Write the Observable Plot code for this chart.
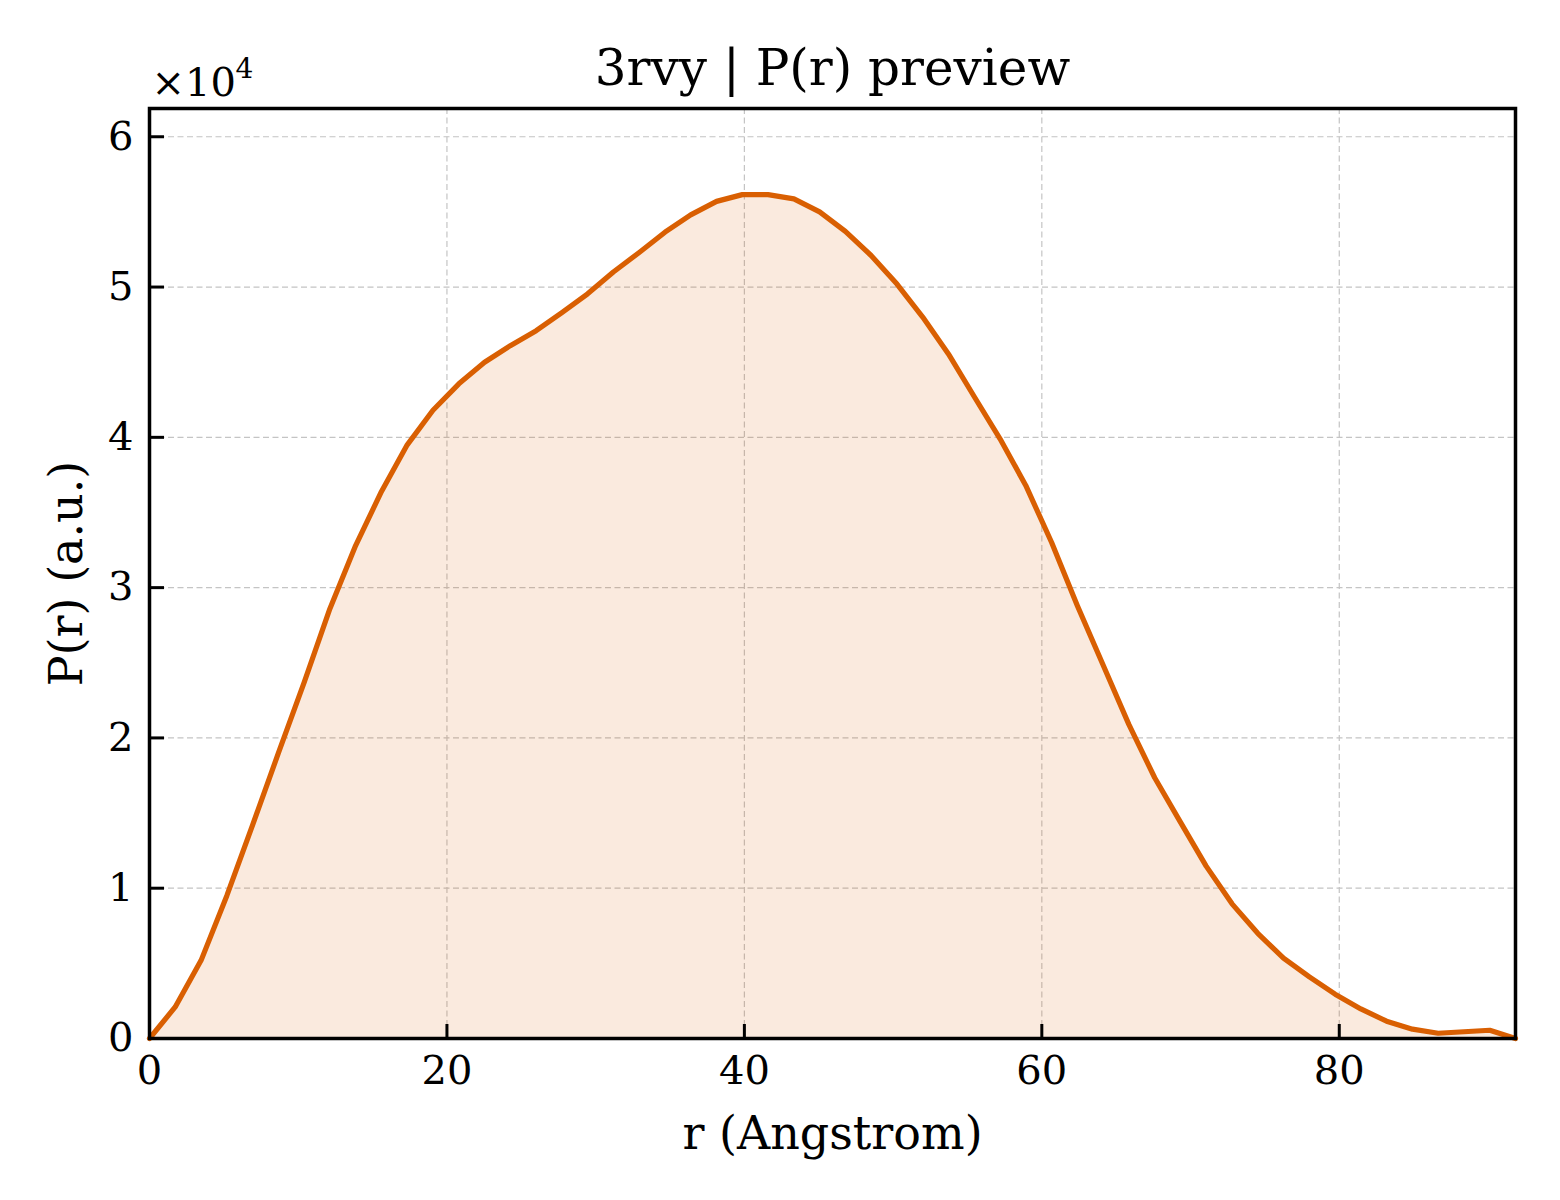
<!DOCTYPE html>
<html>
<head>
<meta charset="utf-8">
<script src="https://cdn.jsdelivr.net/npm/d3@7"></script>
<script src="https://cdn.jsdelivr.net/npm/@observablehq/plot@0.6"></script>
<style>
  html, body { margin: 0; padding: 0; background: #ffffff; }
  #chart svg { display: block; }
</style>
</head>
<body>
<div id="chart"></div>
<script>
// r (Angstrom)
const rValues = [0, 1.73, 3.47, 5.20, 6.93, 8.67, 10.40, 12.13, 13.86, 15.60, 17.33, 19.06, 20.80, 22.53, 24.26, 26.00, 27.73, 29.46, 31.19, 32.93, 34.66, 36.39, 38.13, 39.86, 41.59, 43.33, 45.06, 46.79, 48.52, 50.26, 51.99, 53.72, 55.46, 57.19, 58.92, 60.66, 62.39, 64.12, 65.85, 67.59, 69.32, 71.05, 72.79, 74.52, 76.25, 77.99, 79.72, 81.45, 83.18, 84.92, 86.65, 88.38, 90.12, 91.85];
// P(r) (a.u.)
const pValues = [0, 2100, 5200, 9500, 14200, 19000, 23700, 28600, 32800, 36400, 39500, 41800, 43560, 45000, 46100, 47100, 48300, 49550, 51000, 52300, 53650, 54800, 55700, 56150, 56150, 55870, 55000, 53700, 52100, 50200, 48000, 45550, 42700, 39900, 36800, 33000, 28800, 24850, 20900, 17350, 14400, 11470, 8960, 7000, 5350, 4100, 2950, 1970, 1150, 620, 350, 450, 550, 0];
const xTicks = [0, 20, 40, 60, 80];
const yTicks = [0, 10000, 20000, 30000, 40000, 50000, 60000];
const xDomain = [0, 91.85];
const yDomain = [0, 61880];
const titleText = "3rvy | P(r) preview";
const xLabel = "r (Angstrom)";
const yLabel = "P(r) (a.u.)";
const yMultiplierBase = "×10";
const yMultiplierExp = "4";

const data = rValues.map((r, i) => ({r, p: pValues[i]}));

const W = 1560, H = 1200;
const mL = 149, mR = 45, mT = 108, mB = 162;
const plotW = W - mL - mR, plotH = H - mT - mB;
const lineColor = "#d95f02";

const chart = Plot.plot({
  width: W,
  height: H,
  marginLeft: mL,
  marginRight: mR,
  marginTop: mT,
  marginBottom: mB,
  style: {fontFamily: "'DejaVu Serif', serif", fontSize: "40px", color: "#000", background: "#fff", overflow: "visible"},
  x: {domain: xDomain, axis: null},
  y: {domain: yDomain, axis: null},
  marks: [
    Plot.gridX(xTicks, {stroke: "#c4c4c4", strokeOpacity: 1, strokeWidth: 1.2, strokeDasharray: "6,3.5"}),
    Plot.gridY(yTicks, {stroke: "#c4c4c4", strokeOpacity: 1, strokeWidth: 1.2, strokeDasharray: "6,3.5"}),
    Plot.areaY(data, {x: "r", y: "p", fill: lineColor, fillOpacity: 0.13}),
    Plot.lineY(data, {x: "r", y: "p", stroke: lineColor, strokeWidth: 5.2, strokeLinejoin: "round"}),
    Plot.tickX(xTicks, {x: d => d, insetTop: plotH - 14, stroke: "#000", strokeWidth: 3}),
    Plot.tickY(yTicks, {y: d => d, insetRight: plotW - 15, stroke: "#000", strokeWidth: 3}),
    Plot.frame({stroke: "#000", strokeWidth: 3.5}),
    Plot.axisX(xTicks, {tickSize: 0, tickPadding: 17, fontSize: 40, label: null, tickFormat: d => String(d)}),
    Plot.axisY(yTicks, {tickSize: 0, tickPadding: 16, fontSize: 40, label: null, tickFormat: d => String(d / 10000)}),
    Plot.text([xLabel], {text: d => d, frameAnchor: "bottom", lineAnchor: "bottom", dy: 110, fontSize: 46}),
    Plot.text([yLabel], {text: d => d, frameAnchor: "left", rotate: -90, textAnchor: "middle", lineAnchor: "middle", dx: -82, fontSize: 46}),
    Plot.text([yMultiplierBase], {text: d => d, frameAnchor: "top-left", textAnchor: "start", lineAnchor: "bottom", dx: 2, dy: -13, fontSize: 40}),
    Plot.text([yMultiplierExp], {text: d => d, frameAnchor: "top-left", textAnchor: "start", lineAnchor: "bottom", dx: 86, dy: -31, fontSize: 28}),
    Plot.text([titleText], {text: d => d, frameAnchor: "top", lineAnchor: "bottom", dy: -24, fontSize: 50})
  ]
});
document.getElementById("chart").appendChild(chart);
</script>
</body>
</html>
